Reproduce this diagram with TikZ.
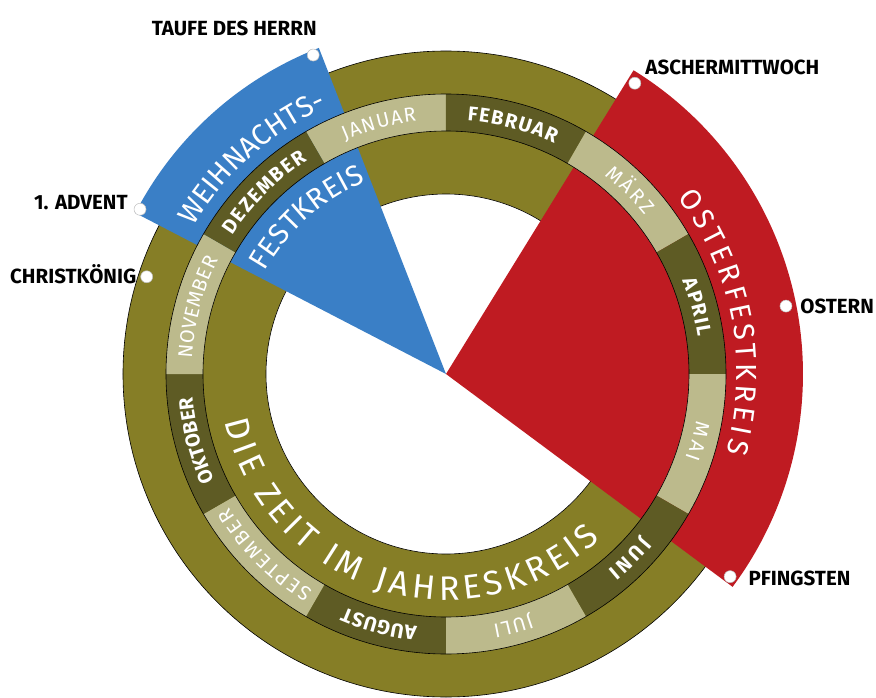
\documentclass[tikz,border=0pt]{standalone}
\usepackage{fontspec}
\setmainfont{Fira Sans}
\usetikzlibrary{positioning,decorations.text}

\definecolor{ringolive}{HTML}{867E26}
\definecolor{mdark}{HTML}{5E5B24}
\definecolor{mlight}{HTML}{BCBA8C}
\definecolor{wblue}{HTML}{3A7FC6}
\definecolor{ored}{HTML}{BF1B22}

\newcommand\lblfont{\fontsize{20.5}{20.5}\selectfont\bfseries}
\newcommand\kreisfont{\fontsize{29}{29}\selectfont}
\newcommand\zeitfont{\fontsize{34}{34}\selectfont}
\newcommand\monatfont{\fontsize{20}{20}\selectfont}

\begin{document}
\begin{tikzpicture}[x=1pt,y=1pt,
  dot/.style={circle,fill=white,draw=black!25,line width=.5pt,minimum size=12pt,inner sep=0pt},
  lbl/.style={font=\lblfont,inner sep=0pt},
  rund/.style={decorate,decoration={text along path,text color=white,text align={fit to path},#1}}]
\useasboundingbox (-446,-323) rectangle (430,374);
% rings
\fill[ringolive,draw=black,line width=.6pt] (0,0) circle[radius=323];
\fill[white,draw=black,line width=.6pt] (0,0) circle[radius=180];
% festkreise
\fill[wblue] (0,0) -- (111.3:350) arc[start angle=111.3,end angle=152.6,radius=350] -- cycle;
\fill[ored] (0,0) -- (-36.6:357) arc[start angle=-36.6,end angle=58.3,radius=357] -- cycle;
% months
\foreach \m/\h [count=\i from 0,evaluate=\i as \a using 105-30*\i] in
  {JANUAR/8.4,FEBRUAR/10.2,MÄRZ/6.4,APRIL/6.5,MAI/4.4,JUNI/5.4,
   JULI/4.4,AUGUST/8.5,SEPTEMBER/13.4,OKTOBER/9.8,NOVEMBER/11.6,DEZEMBER/12}
{
  \ifodd\i \def\c{mdark}\def\w{b}\else \def\c{mlight}\def\w{m}\fi
  \fill[\c] (\a+15:243) arc[start angle=\a+15,end angle=\a-15,radius=243]
    -- (\a-15:280) arc[start angle=\a-15,end angle=\a+15,radius=280] -- cycle;
  \path[rund={text/.expanded={|\noexpand\monatfont\noexpand\fontseries{\w}\noexpand\selectfont|\m}}]
    (\a+\h:254.5) arc[start angle=\a+\h,end angle=\a-\h,radius=254.5];
}
\draw[line width=.6pt] (0,0) circle[radius=243] (0,0) circle[radius=280];
% texts
\path[rund={text={|\kreisfont|WEIHNACHTS-}}] (149.8:292) arc[start angle=149.8,end angle=115,radius=292];
\path[rund={text={|\kreisfont|FESTKREIS}}] (150.5:208) arc[start angle=150.5,end angle=112.6,radius=208];
\path[rund={text={|\kreisfont|OSTERFESTKREIS}}] (37.2:291) arc[start angle=37.2,end angle=-15.6,radius=291];
\path[rund={text={|\zeitfont|DIE ZEIT IM JAHRESKREIS}}] (192.2:226) arc[start angle=192.2,end angle=313.1,radius=226];
% feste
\node[dot] (taufe) at (112.6:345.5) {};
\node[dot] (advent) at (151.7:347.5) {};
\node[dot] (christ) at (162:314.7) {};
\node[dot] (ascher) at (57:346.7) {};
\node[dot] (ostern) at (11.3:346.7) {};
\node[dot] (pfingsten) at (-35.5:349) {};
\node[lbl,above left=15pt and -8pt of taufe] (taufelbl) {TAUFE DES HERRN};
\node[lbl,left=6pt of advent,yshift=7pt] (adventlbl) {1. ADVENT};
\node[lbl,left=4pt of christ,yshift=3pt] (christlbl) {CHRISTKÖNIG};
\node[lbl,above right=4pt and 6pt of ascher] (ascherlbl) {ASCHERMITTWOCH};
\node[lbl,right=8pt of ostern] (osternlbl) {OSTERN};
\node[lbl,right=12pt of pfingsten,yshift=-2pt] (pfingstenlbl) {PFINGSTEN};
\end{tikzpicture}
\end{document}
